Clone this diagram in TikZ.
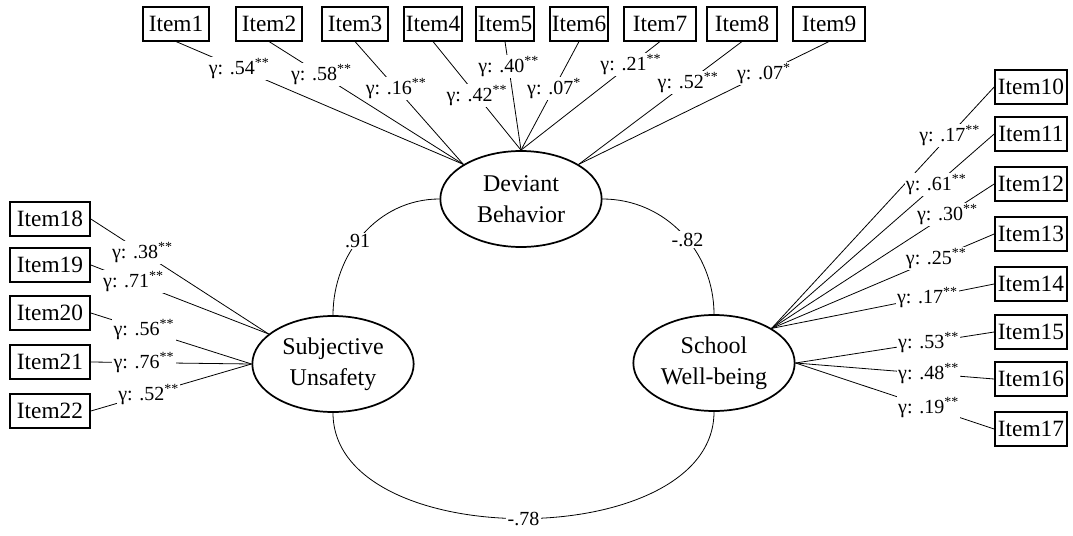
\documentclass[tikz,border=0pt]{standalone}
\usepackage{fontspec}
\setmainfont{Liberation Serif}
\usetikzlibrary{shapes.geometric, positioning}

\begin{document}
\begin{tikzpicture}[x=0.75pt, y=-0.75pt,
  item/.style={draw, line width=1.3pt, minimum height=25pt, inner sep=1pt, font=\fontsize{17.5}{19}\selectfont},
  latent/.style={ellipse, draw, line width=1.3pt, minimum width=121pt, minimum height=72pt, inner sep=0pt, align=center, font=\fontsize{18}{23}\selectfont},
  load/.style={fill=white, inner sep=1pt, font=\fontsize{15}{17}\selectfont},
  link/.style={line width=0.6pt},
  corr/.style={line width=0.6pt}]
  \useasboundingbox (0,0) rectangle (1073,535);

  % Latent factors
  \node[latent] (dev) at (521,199) {Deviant\\Behavior};
  \node[latent] (sub) at (333,364) {Subjective\\Unsafety};
  \node[latent] (sch) at (714,363) {School\\Well-being};

  % Items of deviant behavior
  \node[item, minimum width=50pt] (i1) at (176,24) {Item1};
  \node[item, minimum width=49.5pt] (i2) at (269,24) {Item2};
  \node[item, minimum width=49pt] (i3) at (355,24) {Item3};
  \node[item, minimum width=43.5pt] (i4) at (433,24) {Item4};
  \node[item, minimum width=43.5pt] (i5) at (505,24) {Item5};
  \node[item, minimum width=44pt] (i6) at (579,24) {Item6};
  \node[item, minimum width=54pt] (i7) at (660,24) {Item7};
  \node[item, minimum width=53pt] (i8) at (742,24) {Item8};
  \node[item, minimum width=54pt] (i9) at (829,24) {Item9};

  % Items of school well-being
  \node[item, minimum width=54pt] (i10) at (1031,87) {Item10};
  \node[item, minimum width=54pt] (i11) at (1031,134) {Item11};
  \node[item, minimum width=54pt] (i12) at (1031,184) {Item12};
  \node[item, minimum width=54pt] (i13) at (1031,234) {Item13};
  \node[item, minimum width=54pt] (i14) at (1031,284) {Item14};
  \node[item, minimum width=54pt] (i15) at (1031,332) {Item15};
  \node[item, minimum width=54pt] (i16) at (1031,379) {Item16};
  \node[item, minimum width=54pt] (i17) at (1031,429) {Item17};

  % Items of subjective unsafety
  \node[item, minimum width=60pt] (i18) at (50,219) {Item18};
  \node[item, minimum width=60pt] (i19) at (50,265) {Item19};
  \node[item, minimum width=60pt] (i20) at (50,313) {Item20};
  \node[item, minimum width=60pt] (i21) at (50,362) {Item21};
  \node[item, minimum width=60pt] (i22) at (50,411) {Item22};

  % Loadings
  \draw[link] (i1.south) -- node[load, pos=0.22] {γ: .54\textsuperscript{**}} (dev.149);
  \draw[link] (i2.south) -- node[load, pos=0.27] {γ: .58\textsuperscript{**}} (dev.149);
  \draw[link] (i3.south) -- node[load, pos=0.38] {γ: .16\textsuperscript{**}} (dev.149);
  \draw[link] (i4.south) -- node[load, pos=0.5] {γ: .42\textsuperscript{**}} (dev.north);
  \draw[link] (i5.south) -- node[load, pos=0.23] {γ: .40\textsuperscript{**}} (dev.north);
  \draw[link] (i6.south) -- node[load, pos=0.43] {γ: .07\textsuperscript{*}} (dev.north);
  \draw[link] (i7.south) -- node[load, pos=0.21] {γ: .21\textsuperscript{**}} (dev.north);
  \draw[link] (i8.south) -- node[load, pos=0.33] {γ: .52\textsuperscript{**}} (dev.31);
  \draw[link] (i9.south) -- node[load, pos=0.26] {γ: .07\textsuperscript{*}} (dev.31);

  \draw[link] (i10.west) -- node[load, pos=0.2] {γ: .17\textsuperscript{**}} (sch.31);
  \draw[link] (i11.west) -- node[load, pos=0.26] {γ: .61\textsuperscript{**}} (sch.31);
  \draw[link] (i12.west) -- node[load, pos=0.21] {γ: .30\textsuperscript{**}} (sch.31);
  \draw[link] (i13.west) -- node[load, pos=0.26] {γ: .25\textsuperscript{**}} (sch.31);
  \draw[link] (i14.west) -- node[load, pos=0.3] {γ: .17\textsuperscript{**}} (sch.31);
  \draw[link] (i15.west) -- node[load, pos=0.33] {γ: .53\textsuperscript{**}} (sch.east);
  \draw[link] (i16.west) -- node[load, pos=0.33] {γ: .48\textsuperscript{**}} (sch.east);
  \draw[link] (i17.west) -- node[load, pos=0.33] {γ: .19\textsuperscript{**}} (sch.east);

  \draw[link] (i18.east) -- node[load, pos=0.29] {γ: .38\textsuperscript{**}} (sub.155);
  \draw[link] (i19.east) -- node[load, pos=0.24] {γ: .71\textsuperscript{**}} (sub.155);
  \draw[link] (i20.east) -- node[load, pos=0.33] {γ: .56\textsuperscript{**}} (sub.west);
  \draw[link] (i21.east) -- node[load, pos=0.33] {γ: .76\textsuperscript{**}} (sub.west);
  \draw[link] (i22.east) -- node[load, pos=0.36] {γ: .52\textsuperscript{**}} (sub.west);

  % Correlations
  \draw[corr] (dev.west) to[out=180, in=90] node[load, pos=0.55] {.91} (sub.north);
  \draw[corr] (dev.east) to[out=0, in=90] node[load, pos=0.55] {-.82} (sch.north);
  \draw[corr] (sub.south) to[out=-90, in=-90, looseness=0.95] node[load] {-.78} (sch.south);
\end{tikzpicture}
\end{document}
